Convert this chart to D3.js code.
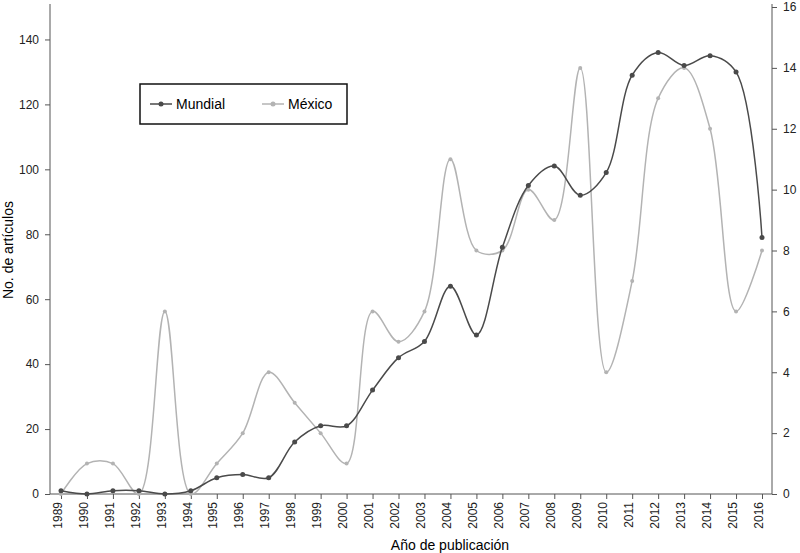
<!DOCTYPE html>
<html><head><meta charset="utf-8">
<script src="https://cdn.jsdelivr.net/npm/d3@7"></script>
<style>body{margin:0;background:#fff}text{font-family:"Liberation Sans",Arial,sans-serif}</style>
</head><body>
<script>
// data
var years = d3.range(1989, 2017);
var mundial = [1,0,1,1,0,1,5,6,5,16,21,21,32,42,47,64,49,76,95,101,92,99,129,136,132,135,130,79];
var mexico = [0,1,1,0,6,0,1,2,4,3,2,1,6,5,6,11,8,8,10,9,14,4,7,13,14,12,6,8];
var leftTicks = [0,20,40,60,80,100,120,140];
var rightTicks = [0,2,4,6,8,10,12,14,16];

var W = 800, H = 553;
var svg = d3.select('body').append('svg').attr('width', W).attr('height', H);

var x = d3.scalePoint().domain(years).range([61, 762]);
var yL = d3.scaleLinear().domain([0, 150]).range([494, 7]);
var yR = d3.scaleLinear().domain([0, 16]).range([494, 7]);

var axL = svg.append('g').attr('transform', 'translate(50,0)')
  .call(d3.axisLeft(yL).tickValues(leftTicks).tickSize(5).tickPadding(6));
var axR = svg.append('g').attr('transform', 'translate(772,0)')
  .call(d3.axisRight(yR).tickValues(rightTicks).tickSize(5).tickPadding(6));
var axB = svg.append('g').attr('transform', 'translate(0,494)')
  .call(d3.axisBottom(x).tickSize(5));
axB.select('.domain').attr('d', 'M50,0H772');
axB.selectAll('.tick text')
  .attr('transform', 'rotate(-90)').attr('text-anchor', 'end')
  .attr('x', -8).attr('y', -4).attr('dy', '0.35em');
axL.select('.domain').attr('d', 'M0,494V4');
axR.select('.domain').attr('d', 'M0,494V4');
svg.selectAll('.tick text').attr('font-size', 12).attr('fill', '#222');
svg.selectAll('.domain, .tick line').attr('stroke', '#555');

svg.append('text').attr('transform', 'translate(13,250) rotate(-90)')
  .attr('text-anchor', 'middle').attr('font-size', 14).text('No. de artículos');
svg.append('text').attr('x', 450).attr('y', 550)
  .attr('text-anchor', 'middle').attr('font-size', 14).text('Año de publicación');

function series(vals, scale, color, width, r) {
  var line = d3.line().curve(d3.curveCatmullRom.alpha(0.5))
    .x(function(d, i) { return x(years[i]); }).y(function(d) { return scale(d); });
  svg.append('path').datum(vals).attr('d', line)
    .attr('fill', 'none').attr('stroke', color).attr('stroke-width', width);
  svg.append('g').selectAll('circle').data(vals).enter().append('circle')
    .attr('cx', function(d, i) { return x(years[i]); })
    .attr('cy', function(d) { return scale(d); })
    .attr('r', r).attr('fill', color);
}
series(mexico, yR, '#b3b3b3', 1.5, 2);
series(mundial, yL, '#4a4a4a', 1.5, 2.5);

var lg = svg.append('g');
lg.append('rect').attr('x', 140).attr('y', 84).attr('width', 207).attr('height', 40)
  .attr('fill', '#fff').attr('stroke', '#111').attr('stroke-width', 1.5);
[['Mundial', '#4a4a4a', 150], ['México', '#b3b3b3', 262]].forEach(function(l) {
  lg.append('line').attr('x1', l[2]).attr('x2', l[2] + 22).attr('y1', 104).attr('y2', 104)
    .attr('stroke', l[1]).attr('stroke-width', 1.5);
  lg.append('circle').attr('cx', l[2] + 11).attr('cy', 104).attr('r', 2.5).attr('fill', l[1]);
  lg.append('text').attr('x', l[2] + 26).attr('y', 109).attr('font-size', 14).text(l[0]);
});
</script>
</body></html>
